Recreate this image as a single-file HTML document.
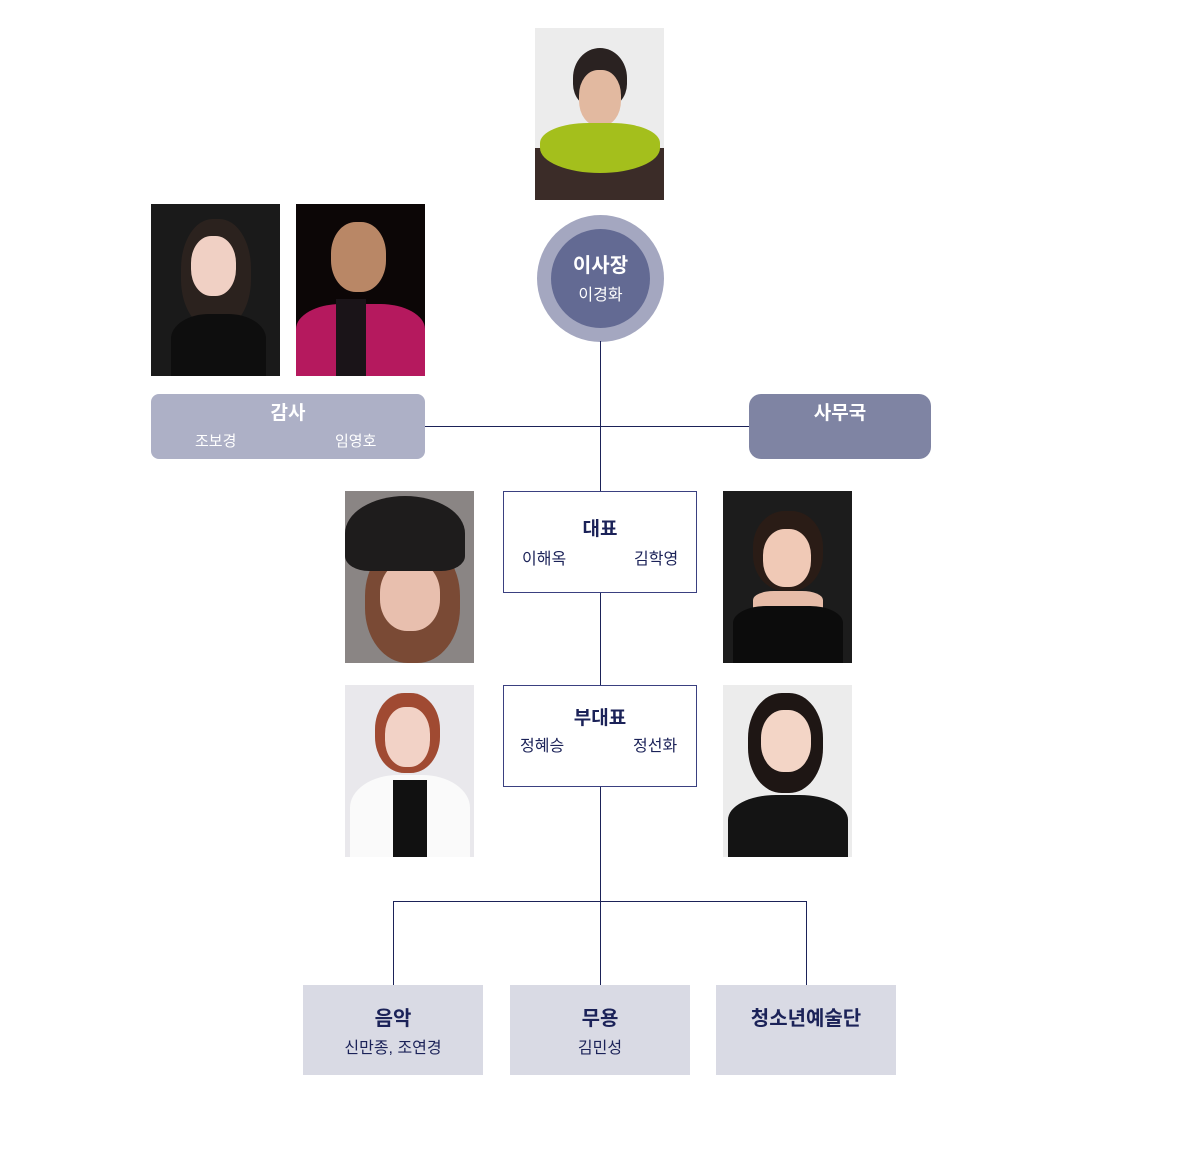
<!DOCTYPE html>
<html><head><meta charset="utf-8"><style>
body{margin:0;width:1200px;height:1156px;background:#fff;position:relative;font-family:"Liberation Sans","Noto Sans CJK KR",sans-serif;overflow:hidden}
.a{position:absolute}
.ph{position:absolute;width:129px;height:172px;overflow:hidden}
.t{position:absolute;white-space:nowrap}
.ln{position:absolute;background:#1b2258}
.b{color:#1b2258}
</style></head><body>
<div class="ph" style="left:535px;top:28px;height:172px;background:#ececec">
 <div class="a" style="left:38px;top:20px;width:54px;height:60px;border-radius:50% 50% 40% 40%;background:#2a2221"></div>
 <div class="a" style="left:44px;top:42px;width:42px;height:56px;border-radius:45%;background:#e2b9a0"></div>
 <div class="a" style="left:0;top:120px;width:129px;height:52px;background:#3b2c28"></div>
 <div class="a" style="left:5px;top:95px;width:120px;height:50px;border-radius:40% 40% 50% 50%;background:#a4bf1c"></div>
</div>
<div class="a" style="left:537px;top:215px;width:127px;height:127px;border-radius:50%;background:#a4a7c0"></div>
<div class="a" style="left:551px;top:229px;width:99px;height:99px;border-radius:50%;background:#636a93"></div>
<div class="t" style="left:551px;width:99px;top:249px;text-align:center;color:#fff;font-weight:bold;font-size:20px">이사장</div>
<div class="t" style="left:551px;width:99px;top:281px;text-align:center;color:#fff;font-size:16px">이경화</div>
<div class="ln" style="left:600px;top:341px;width:1px;height:150px"></div>
<div class="ln" style="left:425px;top:426px;width:324px;height:1px"></div>
<div class="ln" style="left:600px;top:593px;width:1px;height:92px"></div>
<div class="ln" style="left:600px;top:787px;width:1px;height:198px"></div>
<div class="ln" style="left:393px;top:901px;width:414px;height:1px"></div>
<div class="ln" style="left:393px;top:901px;width:1px;height:84px"></div>
<div class="ln" style="left:806px;top:901px;width:1px;height:84px"></div>
<div class="ph" style="left:151px;top:204px;background:#1a1a1a">
 <div class="a" style="left:30px;top:15px;width:70px;height:110px;border-radius:45%;background:#2b221e"></div>
 <div class="a" style="left:40px;top:32px;width:45px;height:60px;border-radius:45%;background:#f0d0c4"></div>
 <div class="a" style="left:20px;top:110px;width:95px;height:62px;border-radius:40% 40% 0 0;background:#0e0e0e"></div>
</div>
<div class="ph" style="left:296px;top:204px;background:#0c0606">
 <div class="a" style="left:35px;top:18px;width:55px;height:70px;border-radius:45%;background:#b98766"></div>
 <div class="a" style="left:0;top:100px;width:129px;height:72px;border-radius:35% 35% 0 0;background:#b5195e"></div>
 <div class="a" style="left:40px;top:95px;width:30px;height:77px;background:#1a1418"></div>
</div>
<div class="a" style="left:151px;top:394px;width:274px;height:65px;border-radius:8px;background:#adb0c6"></div>
<div class="t" style="left:151px;width:274px;top:398px;text-align:center;color:#fff;font-weight:bold;font-size:19px">감사</div>
<div class="t" style="left:195px;top:430px;color:#fff;font-size:15px">조보경</div>
<div class="t" style="left:335px;top:430px;color:#fff;font-size:15px">임영호</div>
<div class="a" style="left:749px;top:394px;width:182px;height:65px;border-radius:12px;background:#7f84a3"></div>
<div class="t" style="left:749px;width:182px;top:398px;text-align:center;color:#fff;font-weight:bold;font-size:19px">사무국</div>
<div class="a" style="left:503px;top:491px;width:192px;height:100px;border:1px solid #3a4080;background:#fff"></div>
<div class="t b" style="left:503px;width:194px;top:514px;text-align:center;font-weight:bold;font-size:19px">대표</div>
<div class="t b" style="left:522px;top:545px;font-size:16px">이해옥</div>
<div class="t b" style="left:634px;top:545px;font-size:16px">김학영</div>
<div class="ph" style="left:345px;top:491px;background:#8a8584">
 <div class="a" style="left:20px;top:50px;width:95px;height:122px;border-radius:45%;background:#7a4a35"></div>
 <div class="a" style="left:35px;top:70px;width:60px;height:70px;border-radius:45%;background:#e8bfae"></div>
 <div class="a" style="left:0;top:5px;width:120px;height:75px;border-radius:50% 50% 20% 20%;background:#1e1c1c"></div>
</div>
<div class="ph" style="left:723px;top:491px;background:#1c1c1c">
 <div class="a" style="left:30px;top:20px;width:70px;height:80px;border-radius:45%;background:#2a1c16"></div>
 <div class="a" style="left:40px;top:38px;width:48px;height:58px;border-radius:45%;background:#f0c9b6"></div>
 <div class="a" style="left:30px;top:100px;width:70px;height:30px;border-radius:30%;background:#e6bca8"></div>
 <div class="a" style="left:10px;top:115px;width:110px;height:57px;border-radius:30% 30% 0 0;background:#0c0c0c"></div>
</div>
<div class="a" style="left:503px;top:685px;width:192px;height:100px;border:1px solid #3a4080;background:#fff"></div>
<div class="t b" style="left:503px;width:194px;top:703px;text-align:center;font-weight:bold;font-size:19px">부대표</div>
<div class="t b" style="left:520px;top:732px;font-size:16px">정혜승</div>
<div class="t b" style="left:633px;top:732px;font-size:16px">정선화</div>
<div class="ph" style="left:345px;top:685px;background:#e9e8ec">
 <div class="a" style="left:30px;top:8px;width:65px;height:80px;border-radius:45%;background:#a04a32"></div>
 <div class="a" style="left:40px;top:22px;width:45px;height:60px;border-radius:45%;background:#f2d2c6"></div>
 <div class="a" style="left:5px;top:90px;width:120px;height:82px;border-radius:40% 40% 0 0;background:#fafafa"></div>
 <div class="a" style="left:48px;top:95px;width:34px;height:77px;background:#111"></div>
</div>
<div class="ph" style="left:723px;top:685px;background:#ececec">
 <div class="a" style="left:25px;top:8px;width:75px;height:100px;border-radius:45%;background:#1e1614"></div>
 <div class="a" style="left:38px;top:25px;width:50px;height:62px;border-radius:45%;background:#f3d5c6"></div>
 <div class="a" style="left:5px;top:110px;width:120px;height:62px;border-radius:40% 40% 0 0;background:#141414"></div>
</div>
<div class="a" style="left:303px;top:985px;width:180px;height:90px;background:#d9dae4"></div>
<div class="a" style="left:510px;top:985px;width:180px;height:90px;background:#d9dae4"></div>
<div class="a" style="left:716px;top:985px;width:180px;height:90px;background:#d9dae4"></div>
<div class="t b" style="left:303px;width:180px;top:1002px;text-align:center;font-weight:bold;font-size:20px">음악</div>
<div class="t b" style="left:303px;width:180px;top:1034px;text-align:center;font-size:16px">신만종, 조연경</div>
<div class="t b" style="left:510px;width:180px;top:1002px;text-align:center;font-weight:bold;font-size:20px">무용</div>
<div class="t b" style="left:510px;width:180px;top:1034px;text-align:center;font-size:16px">김민성</div>
<div class="t b" style="left:716px;width:180px;top:1002px;text-align:center;font-weight:bold;font-size:20px">청소년예술단</div>
</body></html>
